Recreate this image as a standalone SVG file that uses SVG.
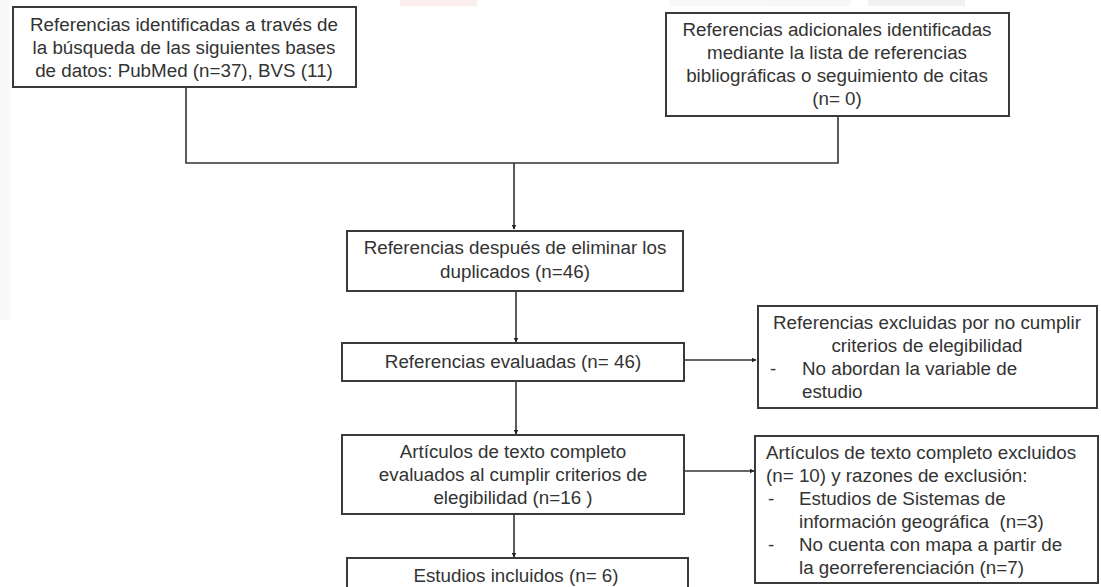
<svg xmlns="http://www.w3.org/2000/svg" width="1101" height="587" viewBox="0 0 1101 587">
<style>
.box{fill:#fff;stroke:#3a3a3a;stroke-width:2}
.t{font-family:"Liberation Sans",Arial,sans-serif;font-size:18.8px;fill:#333}
.c{text-anchor:middle}
.ln{fill:none;stroke:#333;stroke-width:1.6}
</style>
<defs>
<marker id="ah" viewBox="0 0 10 10" refX="9" refY="5" markerWidth="5" markerHeight="5" orient="auto" markerUnits="userSpaceOnUse">
<path d="M0,0 L10,5 L0,10 z" fill="#222"/>
</marker>
</defs>
<rect width="1101" height="587" fill="#fff"/>
<g id="watermark" opacity="0.5">
<rect x="0" y="0" width="10" height="320" fill="#f3f3f6"/>
<rect x="400" y="0" width="77" height="6" fill="#f8dede"/>
<rect x="670" y="0" width="180" height="6" fill="#f1f1f4"/>
<rect x="868" y="0" width="97" height="6" fill="#e4e4ea"/>
</g>
<g id="connectors">
<path class="ln" d="M186,87 V163 H838 V116"/>
<path class="ln" d="M514,163 V229" marker-end="url(#ah)"/>
<path class="ln" d="M516,291 V342" marker-end="url(#ah)"/>
<path class="ln" d="M516,381 V434" marker-end="url(#ah)"/>
<path class="ln" d="M514,514 V557" marker-end="url(#ah)"/>
<path class="ln" d="M684,360 H756" marker-end="url(#ah)"/>
<path class="ln" d="M684,471 H754" marker-end="url(#ah)"/>
</g>
<g id="n1">
<rect class="box" x="13" y="7" width="343" height="80"/>
<text class="t c" x="184" y="31">Referencias identificadas a través de</text>
<text class="t c" x="184" y="54">la búsqueda de las siguientes bases</text>
<text class="t c" x="184" y="77">de datos: PubMed (n=37), BVS (11)</text>
</g>
<g id="n2">
<rect class="box" x="666" y="13" width="343" height="103"/>
<text class="t c" x="837" y="36">Referencias adicionales identificadas</text>
<text class="t c" x="837" y="59">mediante la lista de referencias</text>
<text class="t c" x="837" y="82">bibliográficas o seguimiento de citas</text>
<text class="t c" x="837" y="105">(n= 0)</text>
</g>
<g id="n3">
<rect class="box" x="347" y="231" width="336" height="60"/>
<text class="t c" x="515" y="254">Referencias después de eliminar los</text>
<text class="t c" x="515" y="278">duplicados (n=46)</text>
</g>
<g id="n4">
<rect class="box" x="342" y="343" width="342" height="38"/>
<text class="t c" x="513" y="368">Referencias evaluadas (n= 46)</text>
</g>
<g id="n5">
<rect class="box" x="758" y="306" width="339" height="102"/>
<text class="t c" x="927" y="329">Referencias excluidas por no cumplir</text>
<text class="t c" x="927" y="352">criterios de elegibilidad</text>
<text class="t" x="770" y="375">-</text>
<text class="t" x="802" y="375">No abordan la variable de</text>
<text class="t" x="802" y="398">estudio</text>
</g>
<g id="n6">
<rect class="box" x="342" y="435" width="342" height="79"/>
<text class="t c" x="513" y="458">Artículos de texto completo</text>
<text class="t c" x="513" y="481">evaluados al cumplir criterios de</text>
<text class="t c" x="513" y="504">elegibilidad (n=16 )</text>
</g>
<g id="n7">
<rect class="box" x="347" y="558" width="341" height="40"/>
<text class="t c" x="516" y="582">Estudios incluidos (n= 6)</text>
</g>
<g id="n8">
<rect class="box" x="755" y="436" width="343" height="147"/>
<text class="t" x="766" y="459">Artículos de texto completo excluidos</text>
<text class="t" x="766" y="482">(n= 10) y razones de exclusión:</text>
<text class="t" x="768" y="505">-</text>
<text class="t" x="799" y="505">Estudios de Sistemas de</text>
<text class="t" x="799" y="528" xml:space="preserve">información geográfica  (n=3)</text>
<text class="t" x="768" y="551">-</text>
<text class="t" x="799" y="551">No cuenta con mapa a partir de</text>
<text class="t" x="799" y="574">la georreferenciación (n=7)</text>
</g>
</svg>
